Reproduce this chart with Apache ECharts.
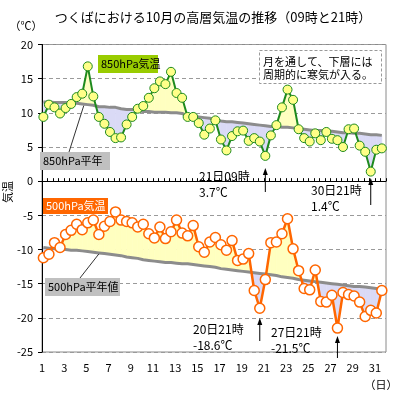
<!DOCTYPE html>
<html><head><meta charset="utf-8">
<script src="https://cdn.jsdelivr.net/npm/echarts@6/dist/echarts.min.js"></script>
<style>html,body{margin:0;padding:0;background:#fff}#c{width:400px;height:400px}</style>
</head><body><div id="c"></div>
<script>
// 62 observations: day 1 09h, day 1 21h, ... day 31 21h
const obsDays = [];
const obsHours = [];
for (let d = 1; d <= 31; d++) { obsDays.push(d, d); obsHours.push(9, 21); }

const t850 = [9.4,11.2,10.8,9.9,10.7,11.3,12.3,12.8,16.8,12.4,
  9.4,8.4,7.2,6.3,6.4,8.3,9.4,10.6,11.0,12.2,
  13.6,14.6,14.2,16.0,12.9,12.2,9.4,9.4,8.5,6.8,
  7.7,8.9,6.1,4.5,6.6,7.3,7.4,5.9,6.3,5.8,
  3.7,6.7,8.2,10.8,13.4,11.9,7.6,6.3,5.8,7.0,
  6.0,7.2,6.2,6.0,5.0,7.6,7.7,5.2,4.3,1.4,
  4.6,4.8];
const n850 = [11.6,11.6,11.5,11.5,11.5,11.4,11.4,11.3,11.2,11.1,
  10.9,10.9,10.8,10.8,10.6,10.5,10.5,10.3,10.2,10.2,
  10.1,10.1,10.1,10.0,10.0,9.9,9.6,9.5,9.4,9.3,
  9.2,9.0,8.8,8.7,8.7,8.6,8.5,8.4,8.3,8.2,
  8.1,8.0,8.0,7.9,7.9,7.8,7.7,7.6,7.5,7.4,
  7.4,7.3,7.3,7.2,7.1,7.1,7.0,7.0,6.9,6.8,
  6.8,6.7];
const t500 = [-11.2,-10.7,-9.0,-9.7,-7.8,-7.2,-6.3,-7.1,-6.1,-5.7,
  -7.8,-6.6,-5.9,-4.5,-5.7,-5.9,-6.1,-6.7,-6.3,-7.7,
  -8.3,-6.7,-8.4,-7.4,-5.7,-7.6,-8.0,-6.5,-9.6,-10.4,
  -8.9,-8.25,-9.3,-10.1,-8.7,-11.6,-11.4,-10.6,-16.0,-18.6,
  -14.4,-9.0,-8.9,-7.7,-5.5,-9.9,-13.1,-15.7,-15.9,-13.0,
  -17.6,-17.7,-16.7,-21.5,-16.3,-16.6,-16.8,-17.7,-19.8,-18.9,
  -19.3,-16.0];
const n500 = [-9.7,-9.8,-9.9,-10.0,-10.0,-10.1,-10.1,-10.2,-10.3,-10.4,
  -10.5,-10.6,-10.7,-10.8,-10.9,-11.1,-11.2,-11.3,-11.5,-11.6,
  -11.7,-11.8,-11.9,-11.9,-12.0,-12.1,-12.1,-12.2,-12.3,-12.4,
  -12.5,-12.6,-12.8,-12.9,-13.0,-13.1,-13.2,-13.3,-13.4,-13.5,
  -13.6,-13.7,-13.8,-14.0,-14.1,-14.2,-14.4,-14.5,-14.6,-14.7,
  -14.8,-14.9,-15.0,-15.1,-15.2,-15.3,-15.4,-15.4,-15.5,-15.6,
  -15.7,-15.8];
const yTicks = [20,15,10,5,0,-5,-10,-15,-20,-25];
const xLabelDays = [1,3,5,7,9,11,13,15,17,19,21,23,25,27,29,31];

// annotated extremes: [obs index, line1, line2]
const notes = [
  {idx: 40, l1: '21日09時', l2: '3.7℃'},
  {idx: 59, l1: '30日21時', l2: '1.4℃'},
  {idx: 39, l1: '20日21時', l2: '-18.6℃'},
  {idx: 53, l1: '27日21時', l2: '-21.5℃'}
];

const FONT = '"Noto Sans CJK JP", "Noto Sans", sans-serif';
const YEL = '#ffffc0', LAV = '#dadaf6';
// position of an observation on the day axis (plot convention of original)
const xs = obsDays.map((d, i) => d + (obsHours[i] - 6) / 24);

function band(act, norm) {
  return {
    type: 'custom', z: 1, silent: true, clip: true,
    data: xs.slice(0, -1).map((x, i) => [x, act[i]]),
    renderItem: function (params, api) {
      const i = params.dataIndex;
      const x0 = xs[i], x1 = xs[i + 1];
      const a0 = act[i], a1 = act[i + 1], n0 = norm[i], n1 = norm[i + 1];
      const d0 = a0 - n0, d1 = a1 - n1;
      const poly = (pts, c) => ({type: 'polygon', shape: {points: pts.map(p => api.coord(p))},
        style: {fill: c, stroke: c, lineWidth: 0.6}});
      const ch = [];
      if (d0 * d1 >= 0) {
        ch.push(poly([[x0, a0], [x1, a1], [x1, n1], [x0, n0]], (d0 + d1) >= 0 ? YEL : LAV));
      } else {
        const t = d0 / (d0 - d1);
        const xc = x0 + t * (x1 - x0), yc = a0 + t * (a1 - a0);
        ch.push(poly([[x0, a0], [xc, yc], [x0, n0]], d0 > 0 ? YEL : LAV));
        ch.push(poly([[xc, yc], [x1, a1], [x1, n1]], d1 > 0 ? YEL : LAV));
      }
      return {type: 'group', children: ch};
    }
  };
}
const pair = arr => xs.map((x, i) => [x, arr[i]]);

const chart = echarts.init(document.getElementById('c'));
chart.setOption({
  animation: false,
  backgroundColor: '#fff',
  textStyle: {fontFamily: FONT},
  grid: {left: 42, top: 44.5, right: 14, bottom: 48, show: true, borderColor: '#8a8a8a', borderWidth: 1},
  xAxis: {
    type: 'value', min: 1, max: 32, interval: 2,
    axisLine: {lineStyle: {color: '#000', width: 1}},
    axisTick: {inside: true, length: 3, lineStyle: {color: '#000'}},
    minorTick: {show: true, splitNumber: 4, length: 3, lineStyle: {color: '#000'}},
    axisLabel: {color: '#000', fontSize: 11, margin: 10, fontFamily: FONT, showMaxLabel: false,
      formatter: v => xLabelDays.indexOf(v) >= 0 ? String(v) : ''},
    splitLine: {show: false}
  },
  yAxis: {
    type: 'value', min: yTicks[yTicks.length - 1], max: yTicks[0], interval: 5,
    axisLine: {show: true, lineStyle: {color: '#000', width: 1}},
    axisTick: {show: true, length: 4, lineStyle: {color: '#000'}},
    axisLabel: {color: '#000', fontSize: 11, margin: 9, fontFamily: FONT},
    splitLine: {show: true, lineStyle: {color: '#9a9a9a', type: [4, 3], width: 1}}
  },
  series: [
    band(t850, n850),
    band(t500, n500),
    {type: 'line', data: pair(n850), symbol: 'none', z: 2, silent: true,
      lineStyle: {color: '#8c8c8c', width: 3}},
    {type: 'line', data: pair(n500), symbol: 'none', z: 2, silent: true,
      lineStyle: {color: '#8c8c8c', width: 3}},
    {type: 'line', data: pair(t850), symbol: 'circle', symbolSize: 9, z: 3, silent: true,
      lineStyle: {color: '#1e8a1e', width: 2},
      itemStyle: {color: '#ffff88', borderColor: '#1e8a1e', borderWidth: 1}},
    {type: 'line', data: pair(t500), symbol: 'circle', symbolSize: 10, z: 3, silent: true,
      lineStyle: {color: '#ff6600', width: 2.5},
      itemStyle: {color: '#ffffff', borderColor: '#ff6600', borderWidth: 1.5}}
  ]
});

const px = (x, y) => chart.convertToPixel({gridIndex: 0}, [x, y]);
const txt = (x, y, s, opt) => Object.assign({type: 'text', x: x, y: y, z: 20,
  style: Object.assign({text: s, fill: '#000', font: '11px ' + FONT, textVerticalAlign: 'middle'}, opt || {})});
const g = [];
g.push(txt(213, 17, 'つくばにおける10月の高層気温の推移（09時と21時）', {font: '13px ' + FONT, textAlign: 'center'}));
g.push(txt(26, 26, '（℃）', {textAlign: 'center'}));
g.push(txt(381, 385, '（日）', {textAlign: 'center'}));
g.push(txt(8, 192, '気温', {textAlign: 'center'}));
g[g.length - 1].rotation = Math.PI / 2;
// series labels
g.push({type: 'rect', z: 19, shape: {x: 98, y: 55, width: 60, height: 18}, style: {fill: '#99cc00'}});
g.push(txt(101, 64, '850hPa気温'));
g.push({type: 'rect', z: 19, shape: {x: 40, y: 152, width: 70, height: 18}, style: {fill: '#c0c0c0'}});
g.push(txt(43, 161, '850hPa平年'));
g.push({type: 'rect', z: 19, shape: {x: 43, y: 198, width: 65, height: 16}, style: {fill: '#ff6600'}});
g.push(txt(46, 206, '500hPa気温', {fill: '#fff'}));
g.push({type: 'rect', z: 19, shape: {x: 45, y: 278, width: 75, height: 18}, style: {fill: '#c0c0c0'}});
g.push(txt(48, 287, '500hPa平年値'));
// leader lines to normal curves
const p850 = px(xs[8], n850[8]);
const p500 = px(xs[10], n500[10]);
g.push({type: 'line', z: 19, shape: {x1: 69, y1: 152, x2: p850[0] - 4, y2: p850[1] + 1}, style: {stroke: '#333', lineWidth: 1}});
g.push({type: 'line', z: 19, shape: {x1: 80, y1: 278, x2: p500[0], y2: p500[1] + 1}, style: {stroke: '#333', lineWidth: 1}});
// comment box
g.push({type: 'rect', z: 19, shape: {x: 259.5, y: 50.5, width: 122, height: 33},
  style: {fill: '#fff', stroke: '#999', lineWidth: 1, lineDash: [3, 2]}});
g.push(txt(263, 62, '月を通して、下層には', {font: '11px ' + FONT}));
g.push(txt(263, 74.5, '周期的に寒気が入る。', {font: '11px ' + FONT}));
// extreme annotations
const notePos = [
  {tx: 199, ty: 176, y1: 192, y2: 168},
  {tx: 311, ty: 190, y1: 205, y2: 178},
  {tx: 193, ty: 329, y1: 341, y2: 318},
  {tx: 271, ty: 332, y1: 358, y2: 336}
];
notes.forEach((n, k) => {
  const p = notePos[k];
  const ax = px(xs[n.idx], 0)[0];
  g.push(txt(p.tx, p.ty, n.l1, {font: '12px ' + FONT}));
  g.push(txt(p.tx, p.ty + 16, n.l2, {font: '12px ' + FONT}));
  g.push({type: 'line', z: 21, shape: {x1: ax, y1: p.y1, x2: ax, y2: p.y2 + 5}, style: {stroke: '#000', lineWidth: 1}});
  g.push({type: 'polygon', z: 21, shape: {points: [[ax, p.y2], [ax - 2.5, p.y2 + 7], [ax + 2.5, p.y2 + 7]]}, style: {fill: '#000'}});
});
chart.setOption({graphic: g});
</script>
</body></html>
